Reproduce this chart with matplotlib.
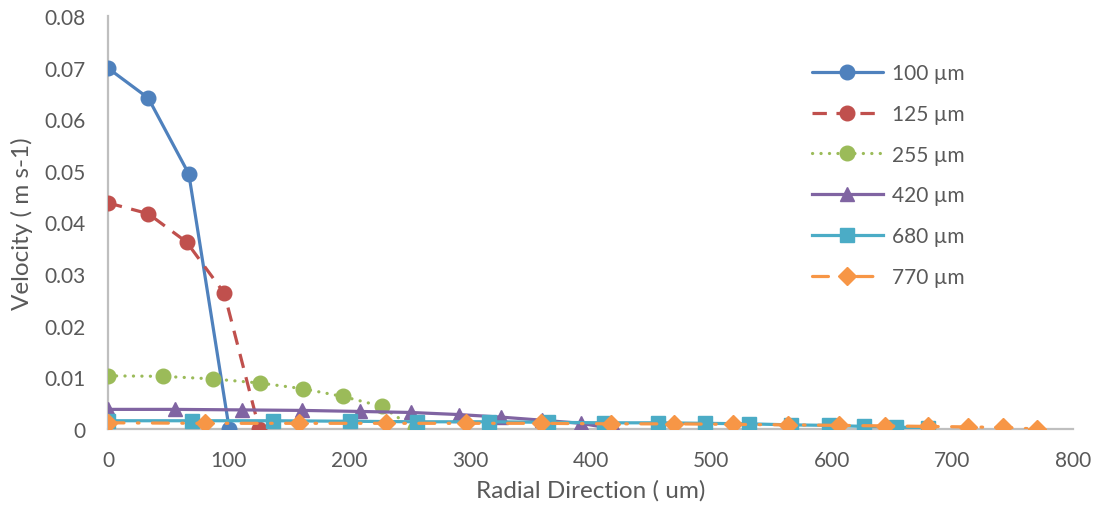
import matplotlib
matplotlib.use("Agg")
import matplotlib.pyplot as plt

plt.rcParams['font.family'] = ['Lato', 'DejaVu Sans']

# ---- data ----
x_100 = [0, 33.4, 67, 100.5]
y_100 = [0.0699, 0.0641, 0.0494, 0.0]

x_125 = [0, 33.4, 65.2, 96.4, 125.4]
y_125 = [0.0438, 0.0417, 0.0362, 0.0263, 0.0]

x_255 = [0, 45.6, 87, 126, 161.6, 194.7, 226.8, 254.4]
y_255 = [0.0103, 0.0102, 0.0097, 0.0089, 0.0078, 0.0063, 0.0044, 0.0]

x_420 = [0, 55.6, 110.7, 161, 209, 251, 290.6, 326, 360, 392, 420]
y_420 = [0.0038, 0.0038, 0.0037, 0.0036, 0.0034, 0.0032, 0.0028, 0.0023, 0.0017, 0.0011, 0.0]

x_680 = [0, 70, 137, 200.5, 256, 316, 364.5, 411.4, 455.6, 495, 531.5, 566, 598, 627, 653.5, 680]
y_680 = [0.0016, 0.0016, 0.0016, 0.0015, 0.0014, 0.0014, 0.0013, 0.0012, 0.0012, 0.0011,
         0.0010, 0.0008, 0.0007, 0.0005, 0.0004, 0.0001]

x_770 = [0, 80.4, 158.6, 230.5, 297, 359, 417, 469.5, 518, 564, 606, 644.5, 679.4, 713, 742, 770]
y_770 = [0.0012, 0.0011, 0.0011, 0.0011, 0.0011, 0.0011, 0.0010, 0.0010, 0.0009, 0.0008,
         0.0007, 0.0006, 0.0005, 0.0004, 0.0003, 0.0]

labels = ['100 µm', '125 µm', '255 µm', '420 µm', '680 µm', '770 µm']
x_ticks = [0, 100, 200, 300, 400, 500, 600, 700, 800]
y_ticks = [0, 0.01, 0.02, 0.03, 0.04, 0.05, 0.06, 0.07, 0.08]
y_tick_labels = ['0', '0.01', '0.02', '0.03', '0.04', '0.05', '0.06', '0.07', '0.08']

# ---- figure ----
W, H = 1099, 506
fig = plt.figure(figsize=(W / 100, H / 100), dpi=100)
ax = fig.add_axes([108 / W, 1 - 430 / H, (1073 - 108) / W, (430 - 17) / H])

lw = 2.3
ms = 10.5
ax.plot(x_100, y_100, color='#4F81BD', lw=lw, marker='o', ms=ms, label=labels[0],
        solid_capstyle='round', zorder=3)
ax.plot(x_125, y_125, color='#C0504D', lw=lw, marker='o', ms=ms, label=labels[1],
        linestyle=(0, (4.5, 3)), zorder=3)
ax.plot(x_255, y_255, color='#9BBB59', lw=lw, marker='o', ms=ms, label=labels[2],
        linestyle=(0, (0.05, 2.6)), dash_capstyle='round', zorder=3)
ax.plot(x_420, y_420, color='#8064A2', lw=lw, marker='^', ms=ms, label=labels[3], zorder=3)
ax.plot(x_680, y_680, color='#4BACC6', lw=lw, marker='s', ms=ms - 0.5, label=labels[4], zorder=3)
ax.plot(x_770, y_770, color='#F79646', lw=lw, marker='D', ms=ms - 1.5, label=labels[5],
        linestyle=(0, (5, 4.2, 0.5, 4.2)), dash_capstyle='round', zorder=3)

ax.set_xlim(0, 800)
ax.set_ylim(0, 0.08)
ax.set_xticks(x_ticks)
ax.set_xticklabels([str(v) for v in x_ticks])
ax.set_yticks(y_ticks)
ax.set_yticklabels(y_tick_labels)

txt = '#595959'
ax.tick_params(axis='both', length=0, labelsize=15, labelcolor=txt)
ax.tick_params(axis='x', pad=15)
ax.tick_params(axis='y', pad=16)

for s in ['top', 'right']:
    ax.spines[s].set_visible(False)
for s in ['left', 'bottom']:
    ax.spines[s].set_color('#BFBFBF')
    ax.spines[s].set_linewidth(1.6)
    ax.spines[s].set_zorder(1)

ax.set_xlabel('Radial Direction ( um)', fontsize=17.5, color=txt, labelpad=7)
ax.set_ylabel('Velocity ( m s-1)', fontsize=17.5, color=txt, labelpad=8)

leg = ax.legend(loc='upper left', bbox_to_anchor=(812 / W, 1 - 64 / H),
                bbox_transform=fig.transFigure, frameon=False, fontsize=15,
                handlelength=3.4, handletextpad=0.45, labelspacing=1.0,
                borderpad=0, borderaxespad=0)
for t in leg.get_texts():
    t.set_color(txt)

fig.savefig('out.png', dpi=100)
